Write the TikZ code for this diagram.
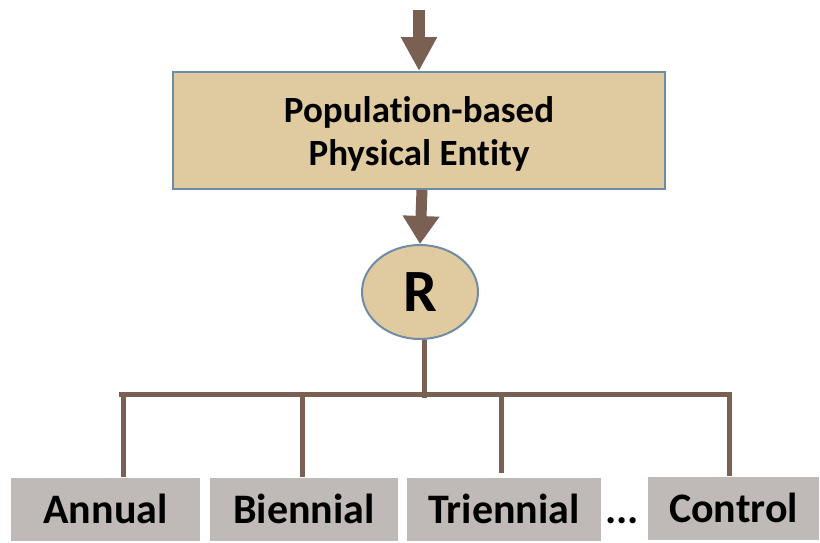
\documentclass[tikz,border=0pt]{standalone}
\usepackage{fontspec}
\setmainfont{Carlito}[Ligatures={NoCommon}]
\usetikzlibrary{arrows.meta,shapes.geometric}
\definecolor{tan}{HTML}{E0CBA1}
\definecolor{edgeblue}{HTML}{6F8CA6}
\definecolor{brownline}{HTML}{7A6053}
\definecolor{greybox}{HTML}{BFB9B7}
\tikzset{
  mainbox/.style={draw=edgeblue, line width=2pt, fill=tan, minimum width=492pt, minimum height=117pt, inner sep=0pt},
  boxtext/.style={align=center, font=\fontsize{37}{43}\selectfont\bfseries, inner sep=0pt},
  rnode/.style={draw=edgeblue, line width=2pt, fill=tan, ellipse, minimum width=116pt, minimum height=94pt, inner sep=0pt, font=\fontsize{60}{62}\selectfont\bfseries},
  leaf/.style={fill=greybox, minimum height=63pt, inner sep=0pt, font=\fontsize{42}{48}\selectfont\bfseries},
  conn/.style={draw=brownline, line width=5pt},
  bigarrow/.style={draw=brownline, fill=brownline, line width=12pt}
}
\begin{document}
\begin{tikzpicture}[x=1pt,y=-1pt]
\useasboundingbox (0,0) rectangle (820,542);
\node[mainbox] (pop) at (419,130.5) {};
\node[boxtext] (poptext) at ([yshift=-3pt]pop.center) {Population-based\\Physical Entity};
\node[rnode] (R) at (420,292) {R};
\node[leaf, minimum width=189pt] (a) at (105.5,509) {Annual};
\node[leaf, minimum width=188pt] (b) at (304,509) {Biennial};
\node[leaf, minimum width=194pt] (t) at (504,509) {Triennial};
\node[leaf, minimum width=171pt] (c) at (733.5,508) {Control};
\node[font=\fontsize{42}{48}\selectfont\bfseries, anchor=base, inner sep=0pt] (dots) at (622,523) {...};
\coordinate (in) at (419,10);
\draw[bigarrow, -{Triangle[width=34pt,length=34pt]}] (in) -- (pop.north);
\draw[bigarrow, line width=11pt, -{Triangle[width=35pt,length=28pt]}] (pop.south -| 422,0) -- (R.north);
\coordinate (hub) at (424,398);
\coordinate (hl) at (119,394);
\coordinate (hr) at (731.5,394);
\coordinate (ja) at (123,394);
\coordinate (jb) at (302,394);
\coordinate (jt) at (501,394);
\coordinate (jc) at (729,394);
\draw[conn] (R.south -| hub) -- (hub);
\draw[conn] (hl) -- (hr);
\draw[conn] (ja) -- (ja |- a.north);
\draw[conn] (jb) -- (jb |- b.north);
\draw[conn] (jt) -- (501,473);
\draw[conn] (jc) -- (jc |- c.north);
\end{tikzpicture}
\end{document}
